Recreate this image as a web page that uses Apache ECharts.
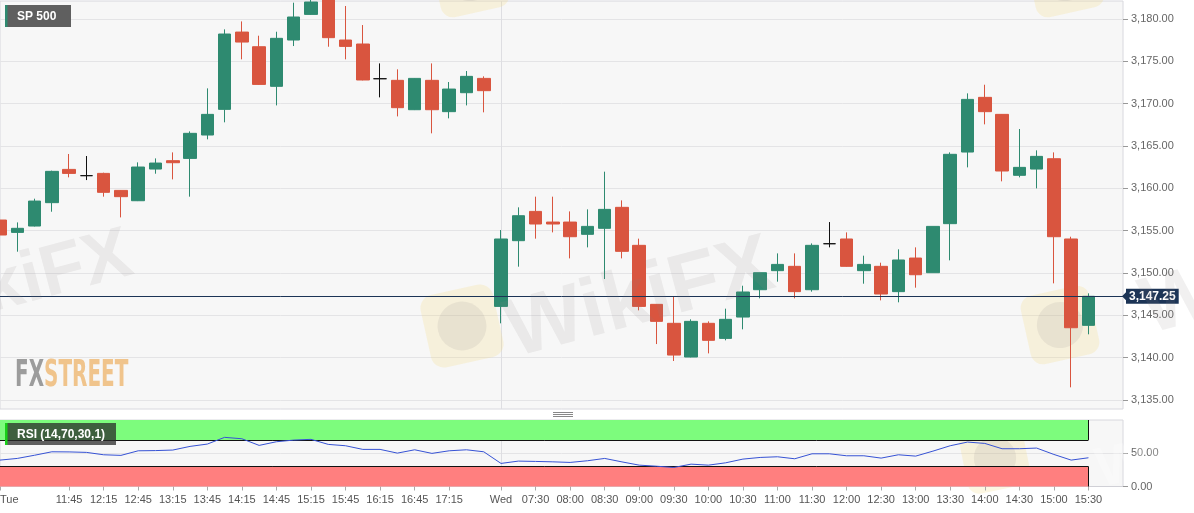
<!DOCTYPE html>
<html><head><meta charset="utf-8">
<script src="https://cdn.jsdelivr.net/npm/echarts@6/dist/echarts.min.js"></script>
<style>html,body{margin:0;padding:0;background:#fff}#c{width:1194px;height:513px}</style>
</head><body><div id="c"></div>
<script>
// ---- data ----
const categories = [
 "Tue 10:45","Tue 11:00","Tue 11:15","Tue 11:30","Tue 11:45","Tue 12:00","Tue 12:15","Tue 12:30","Tue 12:45","Tue 13:00",
 "Tue 13:15","Tue 13:30","Tue 13:45","Tue 14:00","Tue 14:15","Tue 14:30","Tue 14:45","Tue 15:00","Tue 15:15","Tue 15:30",
 "Tue 15:45","Tue 16:00","Tue 16:15","Tue 16:30","Tue 16:45","Tue 17:00","Tue 17:15","Tue 17:30","Tue 17:45",
 "Wed 07:00","Wed 07:15","Wed 07:30","Wed 07:45","Wed 08:00","Wed 08:15","Wed 08:30","Wed 08:45","Wed 09:00","Wed 09:15",
 "Wed 09:30","Wed 09:45","Wed 10:00","Wed 10:15","Wed 10:30","Wed 10:45","Wed 11:00","Wed 11:15","Wed 11:30","Wed 11:45",
 "Wed 12:00","Wed 12:15","Wed 12:30","Wed 12:45","Wed 13:00","Wed 13:15","Wed 13:30","Wed 13:45","Wed 14:00","Wed 14:15",
 "Wed 14:30","Wed 14:45","Wed 15:00","Wed 15:15","Wed 15:30","Wed 15:45","Wed 16:00"
];
const dayStarts = {"Tue 10:45":"Tue","Wed 07:00":"Wed"};
const xTickLabels = [
 "Tue 10:45","Tue 11:45","Tue 12:15","Tue 12:45","Tue 13:15","Tue 13:45","Tue 14:15","Tue 14:45","Tue 15:15","Tue 15:45",
 "Tue 16:15","Tue 16:45","Tue 17:15","Wed 07:00","Wed 07:30","Wed 08:00","Wed 08:30","Wed 09:00","Wed 09:30","Wed 10:00",
 "Wed 10:30","Wed 11:00","Wed 11:30","Wed 12:00","Wed 12:30","Wed 13:00","Wed 13:30","Wed 14:00","Wed 14:30","Wed 15:00","Wed 15:30"
];
const opens = [
 3156.26,3154.80,3155.55,3158.31,3162.24,3161.50,3161.77,3159.76,3158.54,3162.28,
 3163.27,3163.54,3166.30,3169.33,3178.46,3176.73,3172.05,3177.52,3180.55,3182.75,
 3177.52,3177.05,3172.95,3172.76,3169.29,3172.76,3169.06,3171.30,3172.99,
 3146.06,3153.82,3157.28,3156.02,3156.02,3154.57,3155.28,3157.76,3153.27,3146.30,
 3144.06,3140.08,3144.06,3142.28,3144.80,3148.03,3150.28,3150.79,3148.03,3153.46,
 3154.02,3150.28,3150.79,3147.80,3151.77,3150.04,3155.83,3164.29,3170.75,3168.74,
 3161.54,3162.28,3163.50,3154.02,3143.82
];
const closes = [
 3154.49,3155.28,3158.50,3162.01,3161.77,3161.50,3159.53,3159.02,3162.52,3162.99,
 3163.03,3166.50,3168.74,3178.23,3177.28,3172.28,3177.72,3180.24,3182.01,3177.80,
 3176.77,3172.80,3172.95,3169.53,3172.99,3169.29,3171.73,3173.23,3171.54,
 3154.02,3156.77,3155.79,3155.79,3154.29,3155.51,3157.52,3152.56,3146.06,3144.29,
 3140.31,3144.29,3142.05,3144.53,3147.76,3150.04,3151.02,3147.80,3153.27,3153.46,
 3150.79,3151.02,3147.52,3151.54,3149.80,3155.51,3164.02,3170.51,3169.06,3162.05,
 3162.48,3163.78,3154.29,3143.54,3147.25
];
const lows = [
 3153.31,3152.52,3155.50,3157.24,3161.30,3160.98,3159.02,3156.57,3158.50,3161.73,
 3161.06,3159.02,3165.79,3167.80,3175.24,3172.24,3169.80,3176.81,3180.50,3176.73,
 3175.24,3172.76,3170.75,3168.50,3169.25,3166.50,3168.27,3169.80,3168.98,
 3144.06,3150.75,3154.06,3154.80,3151.73,3153.03,3149.29,3151.73,3145.59,3141.61,
 3139.61,3140.04,3140.51,3142.05,3143.35,3147.01,3148.98,3147.01,3147.80,3153.03,
 3150.75,3148.74,3146.77,3146.54,3148.27,3150.04,3151.50,3162.48,3167.56,3160.83,
 3161.30,3160.00,3148.78,3136.50,3142.76
];
const highs = [
 3156.73,3155.98,3158.78,3162.09,3164.06,3163.82,3161.85,3159.80,3163.07,3163.54,
 3164.25,3166.73,3171.81,3178.78,3179.72,3178.03,3178.50,3181.93,3182.75,3183.25,
 3181.54,3179.29,3174.76,3174.06,3173.03,3174.76,3172.56,3173.86,3173.23,
 3155.08,3157.76,3159.02,3159.02,3157.28,3157.52,3161.97,3158.58,3154.06,3146.34,
 3147.28,3144.53,3144.29,3145.79,3148.50,3150.04,3152.32,3152.32,3153.50,3156.02,
 3154.80,3152.05,3151.22,3152.80,3153.03,3155.51,3164.25,3171.22,3172.24,3168.78,
 3167.01,3164.49,3164.25,3154.29,3147.60
];
const rsi = [
 39.7,42.2,47.0,52.2,52.0,51.3,47.7,46.8,53.7,54.0,
 54.8,60.3,63.8,73.9,71.8,61.8,67.3,69.8,70.9,63.3,
 61.3,55.8,55.8,50.2,55.2,49.8,53.7,55.2,52.2,
 34.7,38.2,37.7,37.1,36.2,38.7,42.2,37.0,32.1,30.5,
 28.6,33.6,32.1,35.6,41.2,43.7,44.7,41.7,49.2,49.2,
 46.2,46.2,42.7,47.7,45.7,53.2,61.3,66.8,64.8,56.8,
 56.8,57.8,48.2,39.7,43.2
];
const yTicks = [3135,3140,3145,3150,3155,3160,3165,3170,3175,3180];
const yMin = 3133.94, yMax = 3182.13;
const rsiTicks = [0,50];
const rsiUpper = 70, rsiLower = 30;

// ---- chart ----
const FONT = "'Liberation Sans', Arial, sans-serif";
const fmtPrice = v => Number(v).toLocaleString('en-US',{minimumFractionDigits:2,maximumFractionDigits:2});
const isTick = (idx) => xTickLabels.indexOf(categories[idx]) >= 0;
const isWed = (idx) => categories[idx] === "Wed 07:00";
const candleData = opens.map((o,i)=>[o, closes[i], lows[i], highs[i]]);
const lastIdx = rsi.length - 1;
const lastClose = closes[closes.length-1];

const chart = echarts.init(document.getElementById('c'));
const wmColor = 'rgba(140,130,130,0.12)';
const logoFill = 'rgba(245,215,110,0.2)';
function logo(x,y,s,rot){
  return {type:'group', x:x, y:y, rotation:rot, silent:true, z:50, children:[
    {type:'rect', shape:{x:-s/2,y:-s/2,width:s,height:s,r:s*0.18}, style:{fill:logoFill}},
    {type:'circle', shape:{cx:0,cy:0,r:s*0.33}, style:{fill:'rgba(150,140,140,0.14)'}}
  ]};
}
chart.setOption({
  backgroundColor:'#fff',
  animation:false,
  grid:[
    {left:0,right:71,top:1,height:408,show:true,backgroundColor:'#f7f7f7',borderColor:'#d8d8de',borderWidth:1,containLabel:false,outerBoundsMode:'none'},
    {left:0,right:71,top:420,height:66.5,show:true,backgroundColor:'#f7f7f7',borderColor:'#d8d8de',borderWidth:1,containLabel:false,outerBoundsMode:'none'}
  ],
  xAxis:[
    {type:'category',gridIndex:0,data:categories,boundaryGap:false,
     axisLine:{show:false},axisTick:{show:false},axisLabel:{show:false},
     splitLine:{show:true,interval:isWed,lineStyle:{color:'#dedee2',width:1}}},
    {type:'category',gridIndex:1,data:categories,boundaryGap:false,
     axisLine:{show:true,lineStyle:{color:'#d0d0d6'}},
     axisTick:{show:true,interval:isTick,length:4,lineStyle:{color:'#aaa'}},
     axisLabel:{show:true,interval:isTick,color:'#555',fontSize:11,fontFamily:FONT,margin:8,alignMinLabel:'left',
       formatter:(v)=> dayStarts[v] || v.split(' ')[1]},
     splitLine:{show:true,interval:isWed,lineStyle:{color:'#dedee2',width:1}}}
  ],
  yAxis:[
    {type:'value',gridIndex:0,position:'right',min:yMin,max:yMax,
     axisLine:{show:false},
     axisTick:{show:true,length:5,customValues:yTicks,lineStyle:{color:'#999'}},
     axisLabel:{customValues:yTicks,formatter:fmtPrice,color:'#666',fontSize:11,fontFamily:FONT,margin:8},
     splitLine:{show:true,lineStyle:{color:'#e4e4e6'}}},
    {type:'value',gridIndex:1,position:'right',min:0,max:100,
     axisLine:{show:false},
     axisTick:{show:true,length:5,customValues:rsiTicks,lineStyle:{color:'#999'}},
     axisLabel:{customValues:rsiTicks,formatter:(v)=>Number(v).toFixed(2),color:'#666',fontSize:11,fontFamily:FONT,margin:8},
     splitLine:{show:true,lineStyle:{color:'#e4e4e6'}}}
  ],
  series:[
    {type:'candlestick',name:'SP 500',xAxisIndex:0,yAxisIndex:0,data:candleData,barWidth:13,clip:true,
     itemStyle:{color:'#2e8a70',color0:'#d9553f',borderColor:'#2e8a70',borderColor0:'#d9553f',borderColorDoji:'#111',borderWidth:1},
     emphasis:{disabled:true},
     markLine:{symbol:['none','none'],silent:true,animation:false,
       data:[{yAxis:lastClose,lineStyle:{color:'#1c3456',type:'solid',width:1},
         label:{show:true,position:'end',formatter:fmtPrice(lastClose),backgroundColor:'#1c3456',color:'#fff',
                fontWeight:'bold',fontSize:12,fontFamily:FONT,padding:[2,3,1,3],distance:3}}]}
    },
    {type:'line',name:'RSI',xAxisIndex:1,yAxisIndex:1,data:rsi,symbol:'none',z:5,
     lineStyle:{color:'#3652d4',width:1},emphasis:{disabled:true},
     markArea:{silent:true,data:[
       [{xAxis:categories[0],yAxis:rsiUpper,itemStyle:{color:'#7dfc7d'}},{xAxis:categories[lastIdx],yAxis:100}],
       [{xAxis:categories[0],yAxis:0,itemStyle:{color:'#ff7f7f'}},{xAxis:categories[lastIdx],yAxis:rsiLower}]
     ]},
     markLine:{symbol:['none','none'],silent:true,lineStyle:{color:'#111',type:'solid',width:1},label:{show:false},data:[
       [{coord:[categories[0],rsiUpper]},{coord:[categories[lastIdx],rsiUpper]}],
       [{coord:[categories[0],rsiLower]},{coord:[categories[lastIdx],rsiLower]}],
       [{coord:[categories[lastIdx],rsiUpper]},{coord:[categories[lastIdx],100]}],
       [{coord:[categories[lastIdx],0]},{coord:[categories[lastIdx],rsiLower]}]
     ]}
    }
  ]
});

// decorations: labels, watermarks
const py = chart.convertToPixel({yAxisIndex:0}, lastClose);
const gx = chart.convertToPixel({xAxisIndex:0}, categories[categories.length-1]);
chart.setOption({graphic:[
  // watermarks
  {type:'text',x:640,y:300,rotation:0.26,silent:true,z:50,style:{text:'WikiFX',fill:wmColor,font:"bold 82px 'Liberation Sans', Arial",align:'center',verticalAlign:'middle'}},
  {type:'text',x:15,y:285,rotation:0.26,silent:true,z:50,style:{text:'WikiFX',fill:wmColor,font:"bold 72px 'Liberation Sans', Arial",align:'center',verticalAlign:'middle'}},
  {type:'text',x:1190,y:300,rotation:0.26,silent:true,z:50,style:{text:'Wi',fill:wmColor,font:"bold 80px 'Liberation Sans', Arial",align:'center',verticalAlign:'middle'}},
  {type:'text',x:1130,y:465,rotation:0.2,silent:true,z:50,style:{text:'Wi',fill:'rgba(255,255,255,0.25)',font:"bold 56px 'Liberation Sans', Arial",align:'center',verticalAlign:'middle'}},
  logo(462,326,74,0.22), logo(1060,325,70,0.22), logo(470,-22,70,0.22), logo(1065,-22,70,0.22), logo(995,458,64,0.2),
  // FXSTREET
  {type:'text',x:15,y:376,silent:true,z:60,scaleX:0.6,style:{
     text:'{a|FX}{b|STREET}',verticalAlign:'middle',
     rich:{a:{fill:'#9c9c9c',font:"bold 37px 'Liberation Sans Narrow','DejaVu Sans Condensed',Arial"},
           b:{fill:'#f0c48c',font:"bold 37px 'Liberation Sans Narrow','DejaVu Sans Condensed',Arial"}}}},
  // SP 500 label
  {type:'rect',x:5,y:5,shape:{width:66,height:22},style:{fill:'#5f5f5f'},z:70,silent:true},
  {type:'rect',x:5,y:5,shape:{width:2.5,height:22},style:{fill:'#2e8a70'},z:71,silent:true},
  {type:'text',x:17,y:16.5,z:72,silent:true,style:{text:'SP 500',fill:'#fff',font:"bold 12px 'Liberation Sans', Arial",verticalAlign:'middle'}},
  // RSI label
  {type:'rect',x:5,y:423,shape:{width:111,height:22},style:{fill:'rgba(40,40,40,0.74)'},z:70,silent:true},
  {type:'rect',x:5,y:423,shape:{width:2.5,height:22},style:{fill:'#18d018'},z:71,silent:true},
  {type:'text',x:17,y:434.5,z:72,silent:true,style:{text:'RSI (14,70,30,1)',fill:'#fff',font:"bold 12px 'Liberation Sans', Arial",verticalAlign:'middle'}},
  // drag handle
  {type:'group',x:563,y:414,silent:true,z:60,children:[
    {type:'line',shape:{x1:-10,y1:-1.5,x2:10,y2:-1.5},style:{stroke:'#888',lineWidth:1}},
    {type:'line',shape:{x1:-10,y1:0.5,x2:10,y2:0.5},style:{stroke:'#888',lineWidth:1}},
    {type:'line',shape:{x1:-10,y1:2.5,x2:10,y2:2.5},style:{stroke:'#888',lineWidth:1}}
  ]},
  // price label arrow
  {type:'polygon',shape:{points:[[gx-1,py],[gx+4,py-5],[gx+4,py+5]]},style:{fill:'#1c3456'},z:80,silent:true}
]});
</script>
</body></html>
